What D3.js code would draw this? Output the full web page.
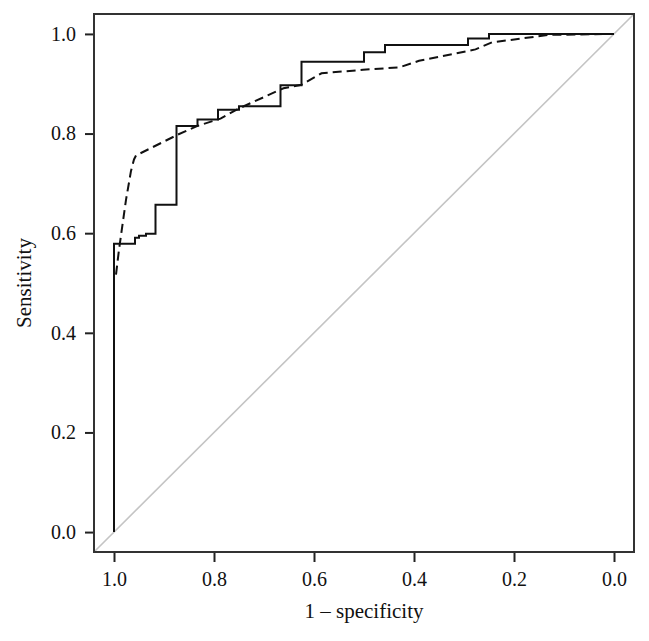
<!DOCTYPE html>
<html>
<head>
<meta charset="utf-8">
<script src="https://cdn.jsdelivr.net/npm/d3@7"></script>
<style>
  html, body { margin: 0; padding: 0; background: #fff; }
  #chart { width: 649px; height: 641px; }
  text { font-family: "Liberation Serif", "DejaVu Serif", serif; fill: #111; }
</style>
</head>
<body>
<div id="chart"></div>
<script>
//Datos (especificidad, sensibilidad)
const stepSpec = [1.0, 1.0, 0.958, 0.950, 0.936, 0.917, 0.875, 0.833, 0.792, 0.750, 0.667, 0.625, 0.500, 0.458, 0.292, 0.250, 0.0];
const stepSens = [0.0, 0.579, 0.591, 0.595, 0.599, 0.657, 0.815, 0.828, 0.848, 0.855, 0.897, 0.944, 0.963, 0.978, 0.991, 1.0, 1.0];

const smoothSpec = [0.996, 0.990, 0.976, 0.966, 0.960, 0.956, 0.872, 0.834, 0.787, 0.751, 0.661, 0.625, 0.585, 0.502, 0.429, 0.390, 0.277, 0.244, 0.131, 0.0];
const smoothSens = [0.517, 0.567, 0.667, 0.725, 0.748, 0.756, 0.798, 0.815, 0.830, 0.850, 0.891, 0.898, 0.921, 0.928, 0.933, 0.946, 0.969, 0.983, 0.998, 1.0];

const tickValues = [1.0, 0.8, 0.6, 0.4, 0.2, 0.0];

//Medidas
let box = {left: 94, right: 634, top: 14, bottom: 552};

let svg = d3.select('#chart')
    .append('svg')
      .attr('width', 649)
      .attr('height', 641);

//Escalas (eje x invertido: especificidad de 1 a 0)
let x = d3.scaleLinear()
    .domain([1.04, -0.04])
    .range([box.left, box.right]);

let y = d3.scaleLinear()
    .domain([-0.04, 1.04])
    .range([box.bottom, box.top]);

//Diagonal de referencia
svg.append('line')
    .attr('x1', x(1.04)).attr('y1', y(-0.04))
    .attr('x2', x(-0.04)).attr('y2', y(1.04))
    .attr('stroke', '#c4c4c4')
    .attr('stroke-width', 1.6);

//Curva suavizada (discontinua)
let smoothData = smoothSpec.map(function(d, i) { return [d, smoothSens[i]]; });

svg.append('path')
    .datum(smoothData)
    .attr('fill', 'none')
    .attr('stroke', '#111')
    .attr('stroke-width', 2)
    .attr('stroke-dasharray', '9,5')
    .attr('d', d3.line()
        .x(function(d) { return x(d[0]); })
        .y(function(d) { return y(d[1]); }));

//Curva empirica (escalones)
let stepData = stepSpec.map(function(d, i) { return [d, stepSens[i]]; });

svg.append('path')
    .datum(stepData)
    .attr('fill', 'none')
    .attr('stroke', '#111')
    .attr('stroke-width', 2)
    .attr('d', d3.line()
        .x(function(d) { return x(d[0]); })
        .y(function(d) { return y(d[1]); })
        .curve(d3.curveStepAfter));

//Ejes
let xAxis = d3.axisBottom(x).tickValues(tickValues).tickSize(10).tickPadding(10).tickFormat(d3.format('.1f'));
let yAxis = d3.axisLeft(y).tickValues(tickValues).tickSize(9).tickPadding(9).tickFormat(d3.format('.1f'));

let gx = svg.append('g')
    .attr('transform', 'translate(0,' + box.bottom + ')')
    .call(xAxis);

let gy = svg.append('g')
    .attr('transform', 'translate(' + box.left + ',0)')
    .call(yAxis);

[gx, gy].forEach(function(g) {
    g.select('.domain').remove();
    g.selectAll('.tick line').attr('stroke', '#222').attr('stroke-width', 2);
    g.selectAll('.tick text').style('font-size', '20px').attr('fill', '#111');
});

//Marco
svg.append('rect')
    .attr('x', box.left)
    .attr('y', box.top)
    .attr('width', box.right - box.left)
    .attr('height', box.bottom - box.top)
    .attr('fill', 'none')
    .attr('stroke', '#333')
    .attr('stroke-width', 2);

//Titulos de ejes
svg.append('text')
    .attr('x', (box.left + box.right) / 2)
    .attr('y', 618)
    .attr('text-anchor', 'middle')
    .style('font-size', '21px')
    .text('1 – specificity');

svg.append('text')
    .attr('transform', 'translate(31,' + (box.top + box.bottom) / 2 + ') rotate(-90)')
    .attr('text-anchor', 'middle')
    .style('font-size', '21px')
    .text('Sensitivity');
</script>
</body>
</html>
